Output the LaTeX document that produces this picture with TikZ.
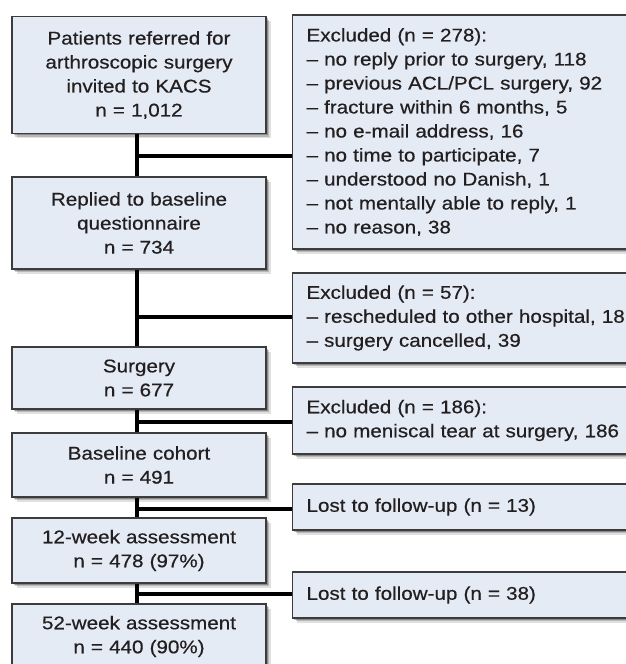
\documentclass[tikz,border=0pt]{standalone}
\usepackage{fontspec}
\setmainfont{Liberation Sans}[FakeStretch=1.12, FakeBold=0.5]
\usetikzlibrary{shadows}
\definecolor{boxfill}{HTML}{E4EBF5}
\definecolor{boxdraw}{HTML}{3C3C3C}
\definecolor{txt}{HTML}{231F20}
\tikzset{
  box/.style={draw=boxdraw, line width=1.1pt, fill=boxfill, text=txt,
    font=\fontsize{18.4}{24}\selectfont, inner sep=0pt,
    general shadow={shadow xshift=4.5pt, shadow yshift=-4.5pt, fill=black, opacity=0.12},
    general shadow={shadow xshift=3pt, shadow yshift=-3pt, fill=black, opacity=0.18},
    general shadow={shadow xshift=1.5pt, shadow yshift=-1.5pt, fill=black, opacity=0.25}},
  leftbox/.style={box, minimum width=254pt, text width=254pt, align=center},
  rightbox/.style={box, anchor=west, minimum width=350pt, text width=322pt, inner xsep=13pt, align=left},
  conn/.style={draw=black, line width=3.6pt}
}
\begin{document}
\begin{tikzpicture}[x=1pt, y=-1pt]
\useasboundingbox (0,0) rectangle (626,664);
\clip (0,0) rectangle (626,664);
% left column
\node[leftbox, minimum height=117pt] (b1) at (139,75) {Patients referred for\\arthroscopic surgery\\invited to KACS\\n = 1,012};
\node[leftbox, minimum height=92pt] (b2) at (139,223) {Replied to baseline\\questionnaire\\n = 734};
\node[leftbox, minimum height=62pt] (b3) at (139,378) {Surgery\\n = 677};
\node[leftbox, minimum height=64pt] (b4) at (139,465) {Baseline cohort\\n = 491};
\node[leftbox, minimum height=65pt] (b5) at (139,550.5) {12-week assessment\\n = 478 (97\%)};
\node[leftbox, minimum height=65pt] (b6) at (139,636.5) {52-week assessment\\n = 440 (90\%)};
% right column
\node[rightbox, minimum height=234pt] (r1) at (292,132) {Excluded (n = 278):\\– no reply prior to surgery, 118\\– previous ACL/PCL surgery, 92\\– fracture within 6 months, 5\\– no e-mail address, 16\\– no time to participate, 7\\– understood no Danish, 1\\– not mentally able to reply, 1\\– no reason, 38};
\node[rightbox, minimum height=90pt] (r2) at (292,318) {Excluded (n = 57):\\– rescheduled to other hospital, 18\\– surgery cancelled, 39};
\node[rightbox, minimum height=67pt] (r3) at (292,420.5) {Excluded (n = 186):\\– no meniscal tear at surgery, 186};
\node[rightbox, minimum height=46pt] (r4) at (292,507) {Lost to follow-up (n = 13)};
\node[rightbox, minimum height=46pt] (r5) at (292,595) {Lost to follow-up (n = 38)};
% trunk
\draw[conn] ([xshift=-2pt]b1.south) -- ([xshift=-2pt]b2.north);
\draw[conn] ([xshift=-2pt]b2.south) -- ([xshift=-2pt]b3.north);
\draw[conn] ([xshift=-2pt]b3.south) -- ([xshift=-2pt]b4.north);
\draw[conn] ([xshift=-2pt]b4.south) -- ([xshift=-2pt]b5.north);
\draw[conn] ([xshift=-2pt]b5.south) -- ([xshift=-2pt]b6.north);
% branches
\coordinate (j1) at (137,156);
\coordinate (j2) at (137,317);
\coordinate (j3) at (137,422);
\coordinate (j4) at (137,509);
\coordinate (j5) at (137,594);
\draw[conn] (j1) -- (j1 -| r1.west);
\draw[conn] (j2) -- (j2 -| r2.west);
\draw[conn] (j3) -- (j3 -| r3.west);
\draw[conn] (j4) -- (j4 -| r4.west);
\draw[conn] (j5) -- (j5 -| r5.west);
\end{tikzpicture}
\end{document}
